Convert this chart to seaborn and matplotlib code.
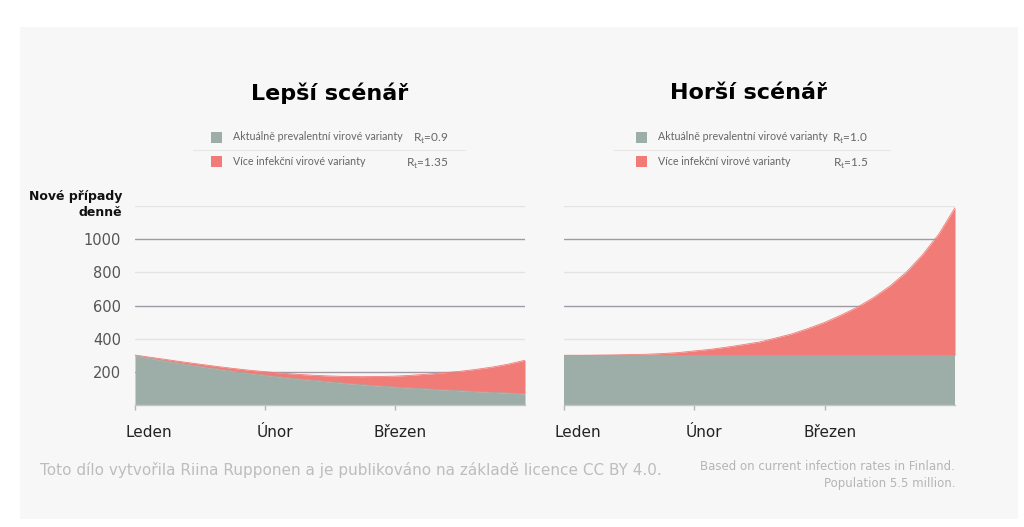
import numpy as np
import pandas as pd
import matplotlib.pyplot as plt
import matplotlib.transforms as mtransforms
from matplotlib.patches import Rectangle
from matplotlib.lines import Line2D
import seaborn as sns

# Data (x in months from 1 January, every ~4 days)
months = [0, 0.125, 0.25, 0.375, 0.5, 0.625, 0.75, 0.875, 1.0, 1.125, 1.25, 1.375, 1.5,
          1.625, 1.75, 1.875, 2.0, 2.125, 2.25, 2.375, 2.5, 2.625, 2.75, 2.875, 3.0]
month_ticks = [0, 1, 2]
month_labels = ['Leden', 'Únor', 'Březen']

# better scenario: current variant Rt=0.9, more infectious Rt=1.35 (stacked total)
better_current = [297, 280, 263, 247, 232, 218, 204, 191, 179, 168, 157, 148, 139,
                  130, 122, 115, 108, 102, 97, 91, 86, 81, 76, 72, 67]
better_total = [301, 287, 273, 259, 246, 233, 221, 210, 201, 192, 185, 179, 175,
                172, 171, 172, 174, 179, 186, 194, 203, 215, 229, 247, 270]

# worse scenario: current variant Rt=1.0, more infectious Rt=1.5 (stacked total)
worse_current = [300] * 25
worse_total = [300, 300, 301, 302, 304, 306, 310, 316, 326, 336, 349, 364, 380,
               404, 429, 462, 498, 542, 590, 648, 717, 800, 905, 1030, 1190]

y_ticks = [200, 400, 600, 800, 1000]
grid_levels = [200, 400, 600, 800, 1000, 1200]

titles = ['Lepší scénář', 'Horší scénář']
legend_names = ['Aktuálně prevalentní virové varianty', 'Více infekční virové varianty']
legend_rt = [['0.9', '1.35'], ['1.0', '1.5']]

GREY = '#9dada8'
RED = '#f17c77'
W, H = 1024, 527

sns.set_theme(style='white')
plt.rcParams['font.family'] = ['DejaVu Sans']

df_better = pd.DataFrame({'month': months, 'current': better_current, 'total': better_total})
df_worse = pd.DataFrame({'month': months, 'current': worse_current, 'total': worse_total})


def fx(px):
    return px / W


def fy(py):
    return 1 - py / H


fig = plt.figure(figsize=(10.24, 5.27), dpi=100)
fig.patch.set_facecolor('white')
fig.patches.append(Rectangle((fx(20), fy(519)), fx(998), 492 / H, transform=fig.transFigure,
                             facecolor='#f7f7f7', edgecolor='none', zorder=-10))

ax1 = fig.add_axes([fx(135), fy(405), fx(390), 199 / H])
ax2 = fig.add_axes([fx(564), fy(405), fx(391), 199 / H])

for ax, df in [(ax1, df_better), (ax2, df_worse)]:
    ax.set_facecolor('none')
    for i, lev in enumerate(grid_levels):
        col = '#a09aa6' if i % 2 == 0 else '#e3e3e3'
        ax.axhline(lev, color=col, lw=1, zorder=0)
    ax.fill_between(df['month'], 0, df['current'], color=GREY, lw=0, zorder=2)
    ax.fill_between(df['month'], df['current'], df['total'], color=RED, lw=0, zorder=2)
    sns.lineplot(data=df, x='month', y='total', ax=ax, color=RED, lw=0.6, zorder=3)
    sns.lineplot(data=df, x='month', y='current', ax=ax, color=GREY, lw=0.6, zorder=3)
    ax.set_xlim(0, 3)
    ax.set_ylim(0, 1200)
    ax.set_xlabel('')
    ax.set_ylabel('')
    for s in ['top', 'right', 'left']:
        ax.spines[s].set_visible(False)
    ax.spines['bottom'].set_color('#c4c4c4')
    ax.spines['bottom'].set_linewidth(1)
    ax.set_xticks(month_ticks)
    ax.set_xticklabels(month_labels, fontsize=11, color='#222222')
    ax.tick_params(axis='x', bottom=True, direction='out', length=3.5, width=1,
                   color='#b5b5b5', pad=11)
    for lab, dx in zip(ax.get_xticklabels(), [14, 10, 5]):
        offset = mtransforms.ScaledTranslation(dx / 100, 0, fig.dpi_scale_trans)
        lab.set_transform(lab.get_transform() + offset)

ax1.set_yticks(y_ticks)
ax1.set_yticklabels([str(v) for v in y_ticks], fontsize=10.5, color='#555555')
ax1.tick_params(axis='y', length=0, pad=10)
ax2.set_yticks([])

fig.text(fx(122), fy(205), 'Nové případy\ndenně', ha='right', va='center', fontsize=9,
         fontweight='bold', color='#111111', linespacing=1.3)

# titles
title_x = [330, 748]
for tx, t in zip(title_x, titles):
    fig.text(fx(tx), fy(93), t, ha='center', va='center', fontsize=16, fontweight='bold',
             color='#000000')

# custom legends
legend_boxes = [(211, 233, 448, 193, 465), (636, 658, 868, 614, 890)]
row_y = [137, 161.5]
for (sq_x, txt_x, rt_x, sep_l, sep_r), rts in zip(legend_boxes, legend_rt):
    for ry, name, col, rt in zip(row_y, legend_names, [GREY, RED], rts):
        fig.patches.append(Rectangle((fx(sq_x), fy(ry + 5.5)), fx(11), 11 / H,
                                     transform=fig.transFigure, facecolor=col, edgecolor='none'))
        fig.text(fx(txt_x), fy(ry), name, ha='left', va='center', fontsize=7.7,
                 color='#666666', family=['Lato', 'DejaVu Sans'])
        fig.text(fx(rt_x), fy(ry + 2), 'R$_\\mathregular{t}$=' + rt, ha='right', va='center',
                 fontsize=8.5, color='#666666', family=['Lato', 'DejaVu Sans'])
    fig.lines.append(Line2D([fx(sep_l), fx(sep_r)], [fy(149.5), fy(149.5)],
                            transform=fig.transFigure, color='#e6e6e6', lw=0.8))

# footer
fig.text(fx(40), fy(470), 'Toto dílo vytvořila Riina Rupponen a je publikováno na základě licence CC BY 4.0.',
         ha='left', va='center', fontsize=11, color='#bdbdbd')
fig.text(fx(955), fy(475), 'Based on current infection rates in Finland.\nPopulation 5.5 million.',
         ha='right', va='center', fontsize=8.5, color='#b5b5b5', linespacing=1.45,
         family=['Liberation Sans Narrow', 'DejaVu Sans'])

fig.savefig('out.png', dpi=100)
